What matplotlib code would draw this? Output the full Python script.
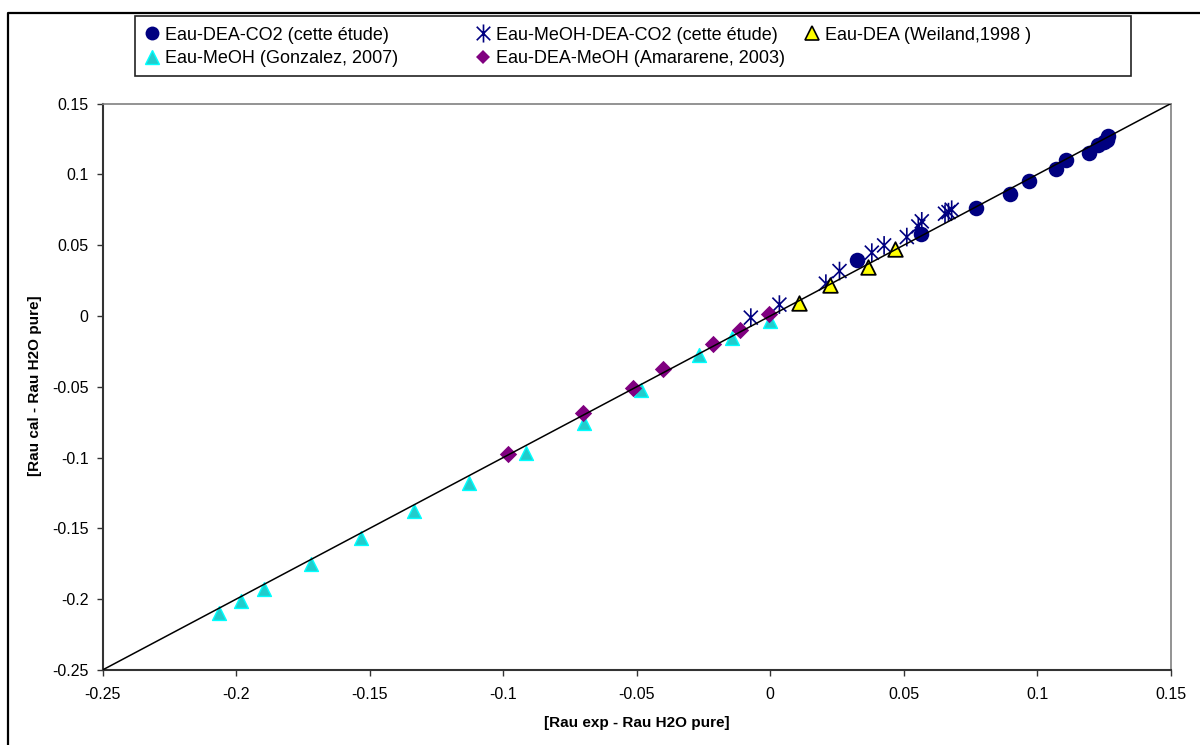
import matplotlib
matplotlib.use("Agg")
import matplotlib.pyplot as plt
from matplotlib.lines import Line2D
from matplotlib.patches import Rectangle
from matplotlib.path import Path

plt.rcParams['font.family'] = ['Liberation Sans', 'DejaVu Sans']

# ---- data ----
dea_co2_x = [0.1266, 0.1260, 0.1250, 0.1226, 0.1193, 0.1106, 0.1070, 0.0969, 0.0898, 0.0769, 0.0563, 0.0326]
dea_co2_y = [0.1274, 0.1239, 0.1225, 0.1204, 0.1152, 0.1098, 0.1039, 0.0950, 0.0863, 0.0764, 0.0576, 0.0392]

meoh_dea_co2_x = [-0.0073, 0.0034, 0.0208, 0.0259, 0.0380, 0.0426, 0.0511, 0.0554, 0.0567, 0.0654, 0.0667, 0.0679]
meoh_dea_co2_y = [-0.0012, 0.0080, 0.0228, 0.0317, 0.0447, 0.0498, 0.0557, 0.0632, 0.0668, 0.0722, 0.0733, 0.0750]

dea_weiland_x = [0.0108, 0.0224, 0.0365, 0.0467]
dea_weiland_y = [0.0091, 0.0221, 0.0345, 0.0472]

meoh_gonz_x = [-0.2063, -0.1981, -0.1894, -0.1719, -0.1532, -0.1334, -0.1127, -0.0916,
               -0.0696, -0.0484, -0.0267, -0.0142, -0.0001]
meoh_gonz_y = [-0.2096, -0.2013, -0.1931, -0.1754, -0.1571, -0.1378, -0.1179, -0.0971,
               -0.0755, -0.0520, -0.0278, -0.0153, -0.0036]

dea_meoh_x = [-0.0981, -0.0702, -0.0513, -0.0403, -0.0213, -0.0113, -0.0004]
dea_meoh_y = [-0.0978, -0.0685, -0.0506, -0.0374, -0.0195, -0.0101, 0.0016]

diag = [-0.25, 0.15]
ticks = [-0.25, -0.2, -0.15, -0.1, -0.05, 0, 0.05, 0.1, 0.15]
tick_labels = ['-0.25', '-0.2', '-0.15', '-0.1', '-0.05', '0', '0.05', '0.1', '0.15']

labels = ['Eau-DEA-CO2 (cette étude)', 'Eau-MeOH-DEA-CO2 (cette étude)', 'Eau-DEA (Weiland,1998 )',
          'Eau-MeOH (Gonzalez, 2007)', 'Eau-DEA-MeOH (Amararene, 2003)']

# Excel-like star marker: X plus vertical bar
star = Path([(0, -1), (0, 1), (-0.75, -0.75), (0.75, 0.75), (-0.75, 0.75), (0.75, -0.75)],
            [Path.MOVETO, Path.LINETO, Path.MOVETO, Path.LINETO, Path.MOVETO, Path.LINETO])

W, H = 1200, 745
fig = plt.figure(figsize=(12, 7.45), dpi=100)
ax = fig.add_axes([102.5 / W, 1 - 670 / H, (1171 - 102.5) / W, (670 - 103.5) / H])

navy = '#000080'
ax.scatter(dea_co2_x, dea_co2_y, s=125, marker='o', color=navy, zorder=3, linewidths=0)
ax.scatter(meoh_dea_co2_x, meoh_dea_co2_y, s=180, marker=star, facecolor='none', edgecolor=navy,
           linewidths=1.2, zorder=3)
ax.scatter(dea_weiland_x, dea_weiland_y, s=110, marker='^', facecolor='#FFFF00',
           edgecolor='black', linewidths=1.3, zorder=3)
ax.scatter(meoh_gonz_x, meoh_gonz_y, s=100, marker='^', facecolor='#22CCCC',
           edgecolor='#00FFFF', linewidths=1.0, zorder=3)
ax.scatter(dea_meoh_x, dea_meoh_y, s=78, marker='D', color='#800080', linewidths=0, zorder=3)
ax.plot(diag, diag, color='black', lw=1.1, zorder=4)

ax.set_xlim(-0.25, 0.15)
ax.set_ylim(-0.25, 0.15)
ax.set_xticks(ticks)
ax.set_xticklabels(tick_labels)
ax.set_yticks(ticks)
ax.set_yticklabels(tick_labels)
ax.tick_params(direction='out', length=4, width=1, labelsize=11.5, color='#333333')
ax.tick_params(axis='x', pad=8)
ax.tick_params(axis='y', pad=6)
for side in ['top', 'right']:
    ax.spines[side].set_color('#808080')
    ax.spines[side].set_linewidth(1.2)
for side in ['left', 'bottom']:
    ax.spines[side].set_color('#333333')
    ax.spines[side].set_linewidth(1.5)

fig.text(637 / W, 1 - 723 / H, '[Rau exp - Rau H2O pure]', ha='center', va='center',
         fontsize=11, fontweight='bold')
fig.text(35 / W, 1 - 386 / H, '[Rau cal - Rau H2O pure]', ha='center', va='center',
         fontsize=11, fontweight='bold', rotation=90)

# outer frame (extends beyond image right/bottom)
fig.add_artist(Line2D([8 / W, 8 / W, 1.0], [0, 1 - 12.5 / H, 1 - 12.5 / H],
                      transform=fig.transFigure, color='black', lw=1.6))
# legend box
fig.add_artist(Rectangle((135 / W, 1 - 76 / H), (1131 - 135) / W, 60 / H, transform=fig.transFigure,
                         facecolor='white', edgecolor='#222222', lw=1.2, zorder=1))

def mk(marker, ms, fc, ec, mew=0.0):
    return Line2D([], [], linestyle='none', marker=marker, markersize=ms,
                  markerfacecolor=fc, markeredgecolor=ec, markeredgewidth=mew)

h_circle = mk('o', 10, navy, navy)
h_star = mk(star, 13, 'none', navy, 1.2)
h_yel = mk('^', 9.5, '#FFFF00', 'black', 1.2)
h_cyan = mk('^', 9.5, '#22CCCC', '#00FFFF', 1.0)
h_dia = mk('D', 7.5, '#800080', '#800080')

cols = [([h_circle, h_cyan], [labels[0], labels[3]], 145),
        ([h_star, h_dia], [labels[1], labels[4]], 476),
        ([h_yel], [labels[2]], 805)]
for hs, ls, xpix in cols:
    leg = fig.legend(hs, ls, loc='upper left', bbox_to_anchor=(xpix / W, 1 - 26.5 / H),
                     frameon=False, fontsize=13, handlelength=0.8, handletextpad=0.3,
                     borderpad=0, borderaxespad=0, labelspacing=0.38)
    leg.set_zorder(2)

fig.savefig('out.png', dpi=100, facecolor='white')
